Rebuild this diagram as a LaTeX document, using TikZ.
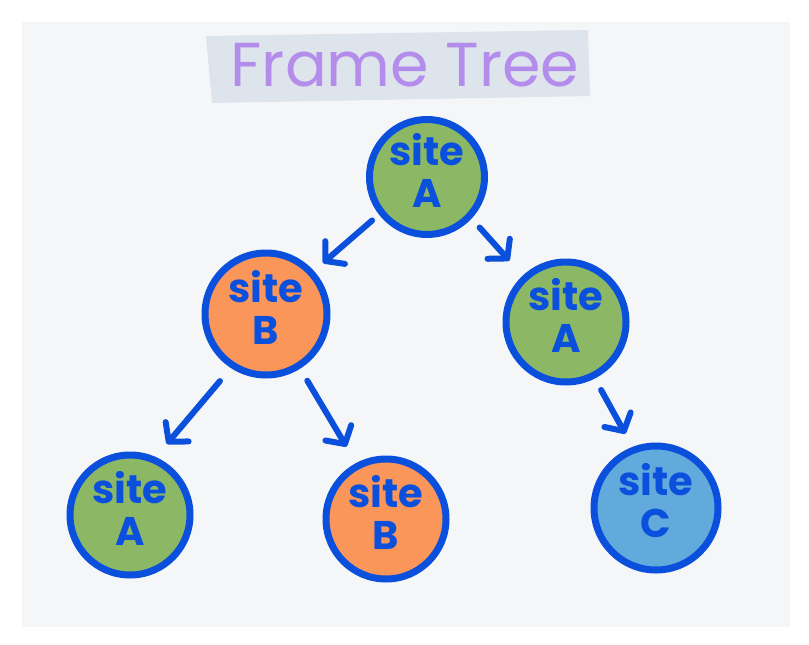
\documentclass[tikz,border=0pt]{standalone}
\usepackage{fontspec}
\setmainfont{Poppins}
\usetikzlibrary{arrows.meta}
\definecolor{panel}{HTML}{F5F6F8}
\definecolor{band}{HTML}{DEE4EC}
\definecolor{titlepurple}{HTML}{B48CEB}
\definecolor{inkblue}{HTML}{0A50DC}
\definecolor{sitegreen}{HTML}{8CB865}
\definecolor{siteorange}{HTML}{FA965A}
\definecolor{siteblue}{HTML}{62AADC}
\tikzset{
  sitenode/.style={circle, draw=inkblue, line width=7pt, inner sep=0pt},
  sitelab/.style={text=inkblue, font=\bfseries\fontsize{40}{42}\selectfont, align=center, yshift=7pt},
  treearrow/.style={draw=inkblue, line width=6pt, line cap=round, line join=round,
    -{Straight Barb[length=13pt,width=30pt,line cap=round,line join=round]}},
}
\begin{document}
\begin{tikzpicture}[x=1pt,y=-1pt]
\useasboundingbox (0,0) rectangle (809,645);
\fill[white] (0,0) rectangle (809,645);
\fill[panel] (22,22) rectangle (790,627);
% title band
\fill[band] (206,36) -- (588,30) -- (590,96) -- (212,103) -- cycle;
\node[text=titlepurple, font=\fontsize{62}{62}\selectfont, anchor=base] (title) at (405,86) {Frame Tree};
% sites
\node[sitenode, fill=sitegreen, minimum size=115pt,
  label={[sitelab]center:site\\A}] (root) at (427,177) {};
\node[sitenode, fill=siteorange, minimum size=122pt,
  label={[sitelab]center:site\\B}] (b) at (266,314) {};
\node[sitenode, fill=sitegreen, minimum size=120pt,
  label={[sitelab]center:site\\A}] (ra) at (566,322) {};
\node[sitenode, fill=sitegreen, minimum size=120pt,
  label={[sitelab]center:site\\A}] (ba) at (130,515) {};
\node[sitenode, fill=siteorange, minimum size=120pt,
  label={[sitelab]center:site\\B}] (bb) at (386,519) {};
\node[sitenode, fill=siteblue, minimum size=124pt,
  label={[sitelab]center:site\\C}] (c) at (656,508) {};
% arrows
\draw[treearrow, shorten <=9pt, shorten >=12pt] (root.218) -- (b.42);
\draw[treearrow, shorten <=12pt, shorten >=20pt] (root.317) -- (ra.133);
\draw[treearrow, shorten <=17pt, shorten >=17pt] (b.237) -- (ba.66);
\draw[treearrow, shorten <=14pt, shorten >=19pt] (b.302) -- (bb.118);
\draw[treearrow, shorten <=13pt, shorten >=15pt] (ra.297) -- (c.111);
\end{tikzpicture}
\end{document}
